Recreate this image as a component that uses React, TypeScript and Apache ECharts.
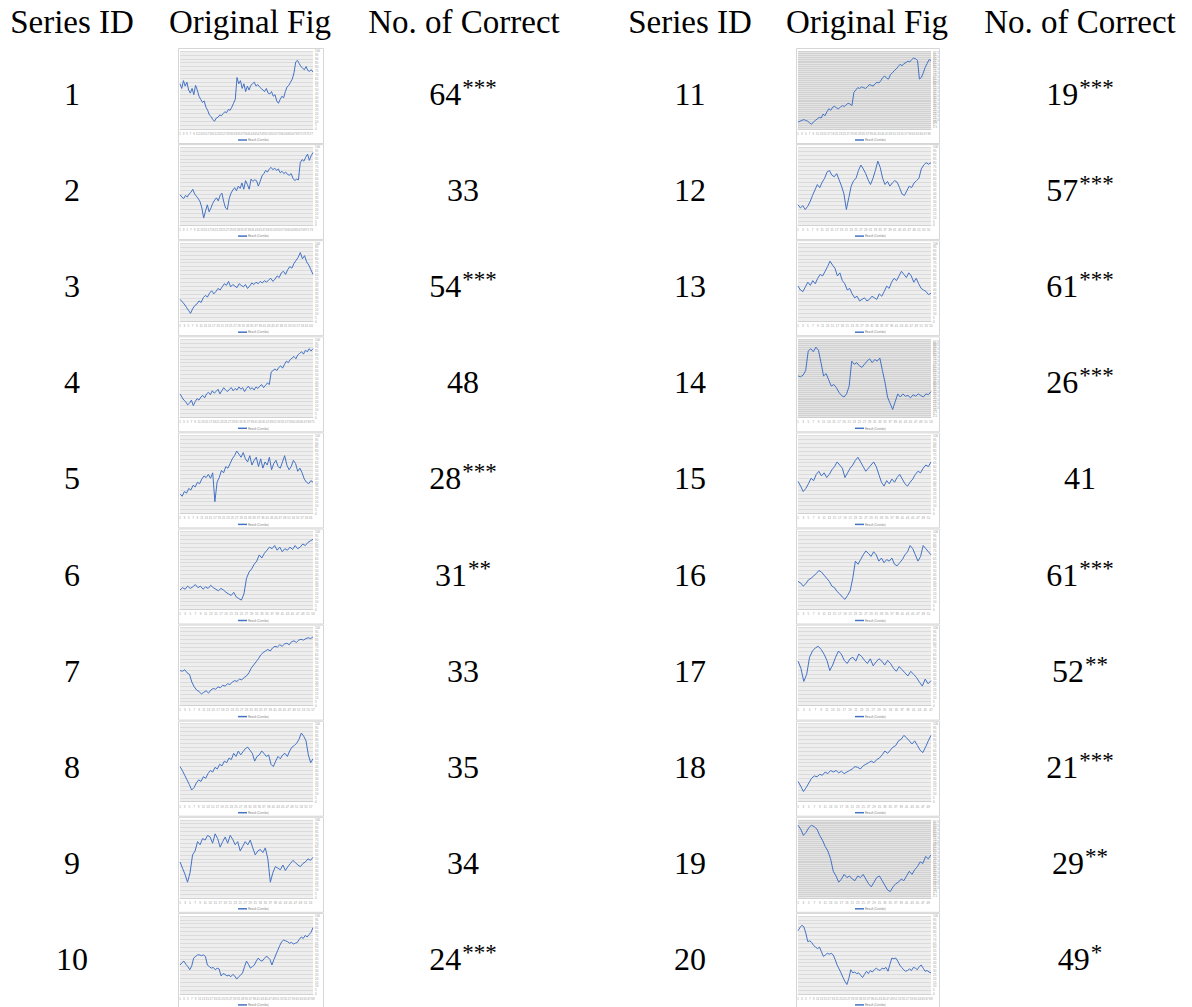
import React, { useEffect, useRef } from 'react';
import * as echarts from 'echarts';

const headers = ['Series ID', 'Original Fig', 'No. of Correct'];
const seriesIds = [1, 2, 3, 4, 5, 6, 7, 8, 9, 10, 11, 12, 13, 14, 15, 16, 17, 18, 19, 20];
const correctCounts = [64, 33, 54, 48, 28, 31, 33, 35, 34, 24, 19, 57, 61, 26, 41, 61, 52, 21, 29, 49];
const significance = ['***', '', '***', '', '***', '**', '', '', '', '***', '***', '***', '***', '***', '', '***', '**', '***', '**', '*'];
const legendLabel = 'Result (Combo)';

const s1 = [58, 52, 62, 55, 60, 50, 46, 52, 44, 56, 50, 42, 38, 34, 36, 28, 24, 18, 16, 12, 10, 14, 15, 18, 17, 20, 22, 21, 25, 24, 28, 33, 38, 66, 58, 62, 52, 58, 48, 55, 50, 56, 58, 60, 55, 57, 54, 52, 50, 48, 52, 46, 45, 48, 42, 44, 36, 33, 38, 42, 40, 48, 54, 56, 60, 64, 72, 86, 88, 84, 80, 78, 76, 80, 75, 74, 76, 73];
const s2 = [39, 36, 34, 38, 36, 40, 42, 46, 40, 37, 34, 30, 22, 9, 18, 26, 17, 22, 28, 32, 35, 31, 38, 41, 30, 22, 20, 34, 41, 45, 48, 44, 50, 47, 54, 46, 57, 52, 46, 59, 56, 58, 57, 50, 56, 63, 66, 70, 68, 72, 74, 71, 73, 70, 72, 67, 69, 66, 68, 65, 64, 66, 60, 57, 59, 58, 80, 84, 82, 87, 91, 83, 89, 93];
const s3 = [28, 25, 22, 18, 14, 10, 16, 20, 22, 26, 24, 30, 33, 31, 36, 39, 35, 38, 42, 40, 44, 48, 46, 51, 44, 47, 45, 43, 48, 46, 44, 47, 42, 45, 49, 47, 50, 48, 51, 49, 52, 50, 53, 55, 51, 54, 58, 56, 62, 64, 60, 66, 70, 68, 74, 78, 82, 88, 80, 84, 76, 72, 66, 60];
const s4 = [30, 26, 22, 20, 16, 18, 22, 15, 20, 24, 22, 26, 28, 25, 30, 32, 29, 34, 31, 33, 36, 30, 34, 38, 35, 33, 36, 38, 34, 37, 35, 39, 36, 38, 33, 37, 40, 36, 38, 35, 39, 37, 40, 42, 38, 41, 44, 42, 58, 60, 62, 60, 64, 66, 63, 68, 72, 70, 74, 76, 78, 75, 80, 82, 84, 81, 86, 84, 88, 85, 88];
const s5 = [25, 22, 28, 26, 32, 30, 36, 34, 40, 38, 44, 48, 46, 50, 45, 52, 15, 40, 46, 55, 52, 60, 58, 64, 70, 74, 80, 76, 72, 78, 70, 66, 74, 62, 68, 72, 60, 70, 58, 66, 62, 72, 56, 64, 68, 60, 58, 66, 74, 62, 56, 60, 68, 64, 54, 58, 52, 44, 40, 38, 42, 40];
const s6 = [25, 28, 26, 30, 27, 29, 32, 28, 30, 26, 29, 27, 31, 28, 26, 24, 27, 25, 22, 20, 18, 22, 16, 14, 12, 20, 40, 48, 52, 58, 62, 70, 66, 72, 76, 80, 78, 82, 76, 80, 74, 78, 76, 80, 77, 82, 78, 80, 84, 82, 86, 88, 90];
const s7 = [45, 44, 46, 42, 40, 30, 24, 20, 18, 15, 17, 19, 16, 20, 22, 21, 24, 23, 26, 25, 28, 27, 30, 32, 31, 34, 33, 36, 38, 42, 48, 52, 56, 60, 65, 68, 70, 72, 70, 74, 76, 75, 78, 76, 79, 80, 78, 82, 83, 81, 84, 85, 84, 86, 87, 86, 88];
const s8 = [45, 40, 34, 28, 22, 15, 18, 24, 28, 26, 32, 30, 36, 40, 38, 44, 42, 48, 46, 52, 50, 56, 54, 62, 58, 65, 60, 64, 68, 70, 66, 62, 52, 58, 60, 65, 62, 58, 60, 48, 45, 52, 58, 55, 60, 62, 58, 65, 70, 72, 75, 80, 88, 84, 78, 60, 50, 55];
const s9 = [46, 38, 30, 20, 32, 55, 60, 72, 68, 76, 74, 80, 78, 70, 82, 76, 65, 72, 78, 70, 80, 75, 68, 72, 60, 66, 72, 68, 74, 64, 55, 60, 62, 58, 64, 50, 20, 32, 40, 38, 36, 42, 35, 40, 44, 48, 45, 42, 40, 44, 46, 50, 48, 52];
const s10 = [37, 40, 42, 38, 35, 31, 36, 46, 48, 50, 50, 49, 50, 48, 37, 35, 33, 34, 31, 33, 32, 23, 26, 25, 23, 24, 22, 25, 23, 19, 22, 24, 27, 35, 42, 38, 33, 35, 37, 42, 46, 43, 42, 45, 48, 47, 44, 37, 44, 50, 56, 62, 67, 69, 68, 67, 65, 66, 64, 65, 66, 70, 73, 71, 75, 73, 76, 79, 85];
const s11 = [9, 10, 11, 12, 11, 10, 8, 6, 9, 11, 13, 15, 14, 19, 17, 22, 26, 24, 28, 29, 27, 26, 28, 30, 29, 31, 33, 32, 30, 47, 50, 53, 52, 54, 53, 52, 54, 57, 56, 55, 58, 60, 59, 62, 66, 68, 65, 64, 70, 72, 75, 77, 80, 83, 81, 84, 85, 87, 86, 89, 91, 90, 88, 64, 66, 72, 79, 84, 89, 88];
const s12 = [26, 22, 25, 20, 24, 30, 38, 45, 52, 48, 55, 60, 68, 70, 64, 62, 66, 58, 50, 40, 20, 35, 50, 57, 60, 70, 77, 72, 66, 58, 52, 60, 70, 82, 74, 60, 52, 56, 50, 54, 57, 55, 48, 40, 38, 44, 50, 48, 54, 57, 60, 72, 77, 80, 78, 80];
const s13 = [45, 40, 38, 44, 50, 46, 52, 48, 55, 60, 58, 64, 70, 77, 72, 68, 58, 62, 52, 48, 40, 42, 35, 30, 32, 26, 28, 30, 26, 28, 32, 30, 28, 35, 32, 38, 45, 42, 50, 55, 52, 58, 64, 60, 56, 62, 58, 50, 55, 48, 42, 40, 38, 34, 36];
const s14 = [53, 52, 54, 60, 85, 88, 84, 90, 86, 70, 53, 56, 48, 40, 42, 38, 32, 28, 26, 30, 40, 72, 68, 70, 66, 64, 68, 72, 75, 70, 74, 72, 76, 60, 45, 26, 18, 10, 20, 30, 26, 30, 27, 28, 25, 29, 27, 30, 28, 26, 30, 29, 33];
const s15 = [41, 35, 28, 32, 38, 45, 42, 50, 54, 48, 52, 46, 50, 56, 60, 66, 62, 58, 46, 52, 58, 62, 68, 72, 66, 60, 54, 58, 62, 66, 60, 50, 40, 35, 42, 38, 44, 40, 46, 50, 44, 38, 35, 40, 44, 50, 54, 52, 58, 62, 60, 66];
const s16 = [36, 34, 30, 33, 38, 40, 43, 46, 50, 48, 44, 40, 36, 30, 28, 23, 20, 16, 13, 18, 24, 40, 62, 58, 64, 70, 75, 72, 68, 74, 70, 62, 66, 60, 64, 62, 66, 58, 56, 60, 64, 70, 74, 82, 78, 70, 62, 68, 82, 78, 74, 70];
const s17 = [57, 48, 31, 40, 62, 70, 74, 76, 72, 66, 58, 45, 52, 62, 70, 66, 58, 54, 60, 62, 57, 66, 63, 58, 54, 60, 51, 56, 60, 57, 52, 58, 54, 48, 44, 50, 46, 42, 38, 44, 40, 36, 30, 25, 34, 28, 32];
const s18 = [26, 20, 13, 18, 24, 30, 33, 32, 35, 34, 38, 36, 40, 38, 40, 37, 39, 36, 38, 40, 42, 45, 44, 42, 46, 48, 50, 52, 50, 54, 56, 60, 65, 62, 66, 70, 72, 78, 80, 85, 82, 78, 74, 78, 72, 66, 63, 70, 78, 85];
const s19 = [93, 88, 80, 84, 90, 93, 91, 88, 80, 74, 66, 60, 50, 34, 28, 20, 24, 30, 26, 28, 24, 22, 28, 26, 30, 24, 18, 14, 20, 26, 28, 22, 16, 10, 8, 14, 18, 20, 24, 22, 28, 34, 30, 36, 40, 46, 44, 53, 50, 55];
const s20 = [81, 85, 88, 86, 78, 67, 68, 66, 62, 60, 58, 60, 54, 48, 50, 52, 51, 52, 50, 44, 37, 32, 27, 21, 16, 12, 20, 31, 27, 28, 26, 27, 24, 21, 25, 29, 26, 30, 28, 31, 33, 31, 30, 33, 32, 34, 29, 38, 46, 45, 46, 42, 37, 34, 31, 29, 30, 32, 30, 34, 33, 31, 35, 37, 33, 29, 30, 28, 27];

const allSeries = [s1, s2, s3, s4, s5, s6, s7, s8, s9, s10, s11, s12, s13, s14, s15, s16, s17, s18, s19, s20];
const denseGridIds = [11, 14, 19];

const FONT = '"Liberation Serif", "Times New Roman", serif';
const BLUE = '#4472c4';
const PITCH = 96.1;
const THUMB_TOP = 48;
const TEXT_Y0 = 94;
const COLS = [
  { idX: 72, thumbX: 178, thumbW: 145, plotX: 180, numX: 463, figX: 250 },
  { idX: 690, thumbX: 796, thumbW: 143, plotX: 798, numX: 1080, figX: 867 },
];
const HEADER_X = [[72, 250, 464], [690, 867, 1080]];

function buildOption() {
  const grids: any[] = [];
  const xAxes: any[] = [];
  const yAxes: any[] = [];
  const series: any[] = [];
  const graphic: any[] = [];

  HEADER_X.forEach((xs) => {
    xs.forEach((x, k) => {
      graphic.push({
        type: 'text', x, y: 22, z: 10,
        style: { text: headers[k], fontSize: 33, fontFamily: FONT, fill: '#000', align: 'center', verticalAlign: 'middle', textAlign: 'center', textVerticalAlign: 'middle' },
      });
    });
  });

  allSeries.forEach((vals, i) => {
    const col = COLS[i < 10 ? 0 : 1];
    const row = i % 10;
    const top = THUMB_TOP + PITCH * row;
    const dense = denseGridIds.indexOf(seriesIds[i]) >= 0;

    graphic.push({
      type: 'rect', z: 1, silent: true,
      shape: { x: col.thumbX + 0.5, y: top + 0.5, width: col.thumbW, height: 95 },
      style: { fill: 'none', stroke: '#d6d6d6', lineWidth: 1 },
    });
    graphic.push({
      type: 'line', z: 5, silent: true,
      shape: { x1: col.figX - 12, y1: top + 92, x2: col.figX - 3, y2: top + 92 },
      style: { stroke: BLUE, lineWidth: 1.5 },
    });
    graphic.push({
      type: 'text', x: col.figX - 2, y: top + 92, z: 5, silent: true,
      style: { text: legendLabel, fontSize: 3, fontFamily: 'Roboto', fill: '#888', align: 'left', verticalAlign: 'middle', textAlign: 'left', textVerticalAlign: 'middle' },
    });

    const ty = TEXT_Y0 + PITCH * row;
    graphic.push({
      type: 'text', x: col.idX, y: ty, z: 10,
      style: { text: String(seriesIds[i]), fontSize: 32, fontFamily: FONT, fill: '#000', align: 'center', verticalAlign: 'middle', textAlign: 'center', textVerticalAlign: 'middle' },
    });
    const st = significance[i];
    graphic.push({
      type: 'text', x: col.numX, y: ty, z: 10,
      style: {
        text: st ? `{n|${correctCounts[i]}}{s|${st}}` : `{n|${correctCounts[i]}}`,
        fontSize: 32, fontFamily: FONT, fill: '#000', align: 'center', verticalAlign: 'middle', textAlign: 'center', textVerticalAlign: 'middle',
        rich: {
          n: { fontSize: 32, fontFamily: FONT, fill: '#000', color: '#000', lineHeight: 36 },
          s: { fontSize: 23, fontFamily: FONT, fill: '#000', color: '#000', lineHeight: 36, verticalAlign: 'top', padding: [0, 0, 0, 1] },
        },
      },
    });

    grids.push({
      left: col.plotX, top: top + 3, width: 133, height: 78,
      show: true, backgroundColor: dense ? '#e4e4e4' : '#eeeeee', borderWidth: 0, containLabel: false,
    });
    xAxes.push({
      type: 'category', gridIndex: i, boundaryGap: false,
      data: vals.map((_, k) => String(k + 1)),
      axisLine: { show: true, lineStyle: { color: '#c8c8c8', width: 0.6 } },
      axisTick: { show: false },
      axisLabel: { show: true, fontSize: 3, color: '#9a9a9a', interval: 1, margin: 3 },
      splitLine: { show: false },
    });
    yAxes.push({
      type: 'value', gridIndex: i, position: 'right', min: 0, max: 100, interval: dense ? 2.5 : 5,
      axisLine: { show: false }, axisTick: { show: false },
      axisLabel: { show: true, fontSize: 3, color: '#9a9a9a', margin: 2 },
      splitLine: { show: true, lineStyle: { color: dense ? '#c8c8c8' : '#d2d2d2', width: 0.7 } },
    });
    series.push({
      type: 'line', xAxisIndex: i, yAxisIndex: i, data: vals, showSymbol: false, symbol: 'none',
      lineStyle: { color: BLUE, width: 1 }, silent: true,
    });
  });

  return { animation: false, backgroundColor: '#ffffff', grid: grids, xAxis: xAxes, yAxis: yAxes, series, graphic };
}

export default function App() {
  const ref = useRef<HTMLDivElement>(null);
  useEffect(() => {
    if (!ref.current) return;
    const chart = echarts.init(ref.current, undefined, { renderer: 'svg' });
    chart.setOption(buildOption() as any);
    return () => chart.dispose();
  }, []);
  return <div ref={ref} style={{ position: 'absolute', left: 0, top: 0, width: 1192, height: 1007 }} />;
}
